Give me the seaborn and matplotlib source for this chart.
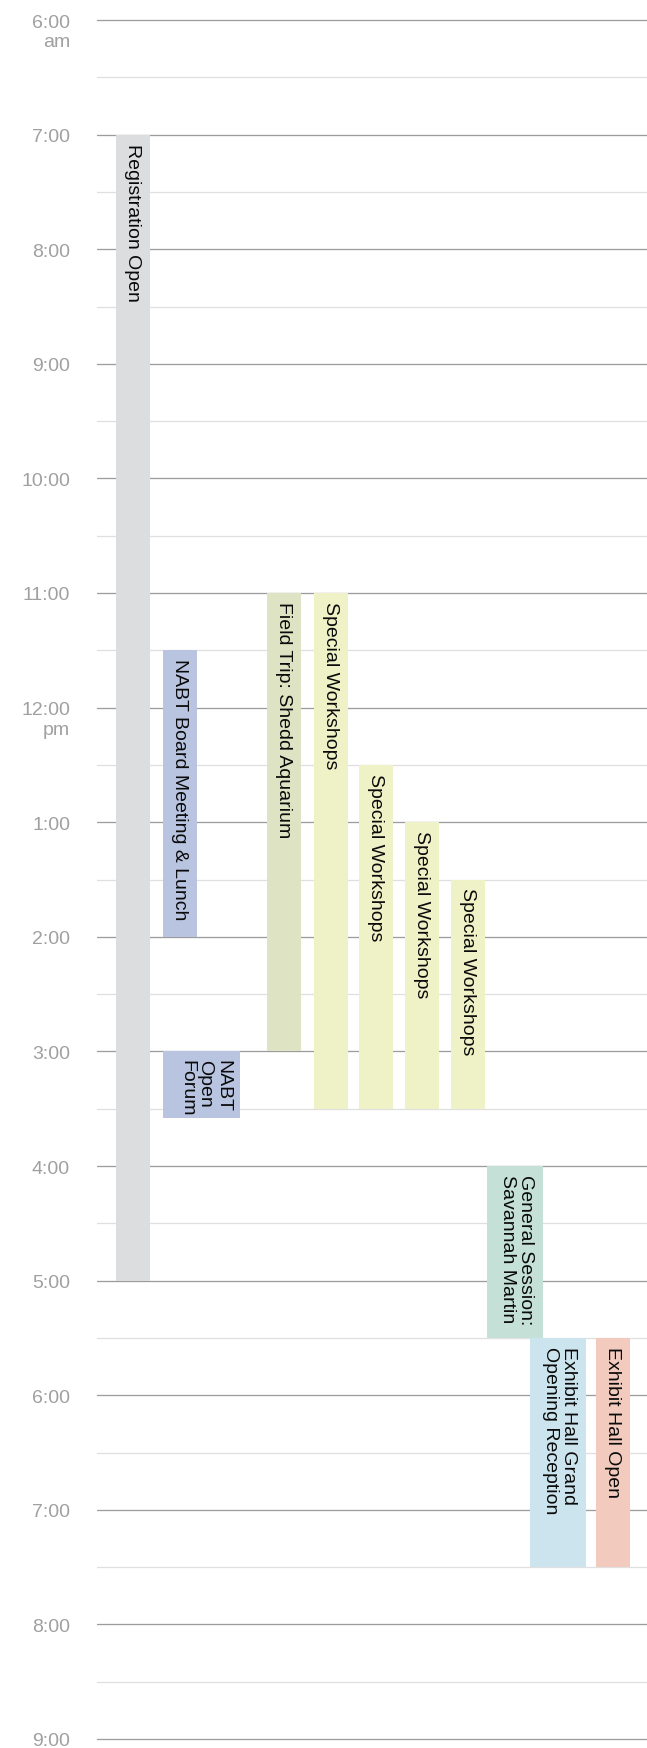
import matplotlib
matplotlib.use("Agg")
import matplotlib.pyplot as plt
import seaborn as sns

# schedule data (hours, 24h clock)
events = ["Registration Open", "NABT Board Meeting & Lunch", "NABT\nOpen\nForum",
          "Field Trip: Shedd Aquarium", "Special Workshops", "Special Workshops",
          "Special Workshops", "Special Workshops", "General Session:\nSavannah Martin",
          "Exhibit Hall Grand\nOpening Reception", "Exhibit Hall Open"]
starts = [7, 11.5, 15, 11, 11, 12.5, 13, 13.5, 16, 17.5, 17.5]
ends = [17, 14, 15.58, 15, 15.5, 15.5, 15.5, 15.5, 17.5, 19.5, 19.5]
kinds = ["reg", "nabt", "nabt", "trip", "workshop", "workshop", "workshop",
         "workshop", "general", "reception", "exhibit"]

hours = list(range(6, 22))
hour_labels = ["6:00", "7:00", "8:00", "9:00", "10:00", "11:00", "12:00", "1:00",
               "2:00", "3:00", "4:00", "5:00", "6:00", "7:00", "8:00", "9:00"]
hour_suffix = {6: "am", 12: "pm"}

# layout (px from left edge of the grid) and styling
lefts = [19, 66, 66, 170, 217, 262, 308, 354, 390, 433, 499]
widths = [34, 34, 77, 34, 34, 34, 34, 34, 56, 56, 34]
colors = {"reg": "#dcdddf", "nabt": "#b8c4e0", "trip": "#dde3c3",
          "workshop": "#eef2c6", "general": "#c4e0d7", "reception": "#cce4ee",
          "exhibit": "#f2cbbe"}

sns.set_theme(style="white")
plt.rcParams["font.family"] = ["Liberation Sans", "DejaVu Sans"]

W, H, DPI = 647, 1748, 100
fig = plt.figure(figsize=(W / DPI, H / DPI), dpi=DPI)
top_px, bot_px, left_px = 20, 1739, 97
ax = fig.add_axes([left_px / W, (H - bot_px) / H, (W - left_px) / W, (bot_px - top_px) / H])
ax.set_xlim(0, W - left_px)
ax.set_ylim(21, 6)
ax.axis("off")

px = 72 / DPI  # points per pixel

# grid lines: hours darker, half hours light
for h in hours:
    ax.axhline(h, color="#9c9c9c", lw=1.3 * px, zorder=1, clip_on=False)
    if h < 21:
        ax.axhline(h + 0.5, color="#e0e0e0", lw=1.3 * px, zorder=1)

# hour labels
for h, lab in zip(hours, hour_labels):
    ax.annotate(lab, xy=(0, h), xycoords=("axes fraction", "data"),
                xytext=(-27 * px, -7.5 * px), textcoords="offset points",
                ha="right", va="baseline", fontsize=14, color="#a0a0a0")
    if h in hour_suffix:
        ax.annotate(hour_suffix[h], xy=(0, h), xycoords=("axes fraction", "data"),
                    xytext=(-27 * px, -27 * px), textcoords="offset points",
                    ha="right", va="baseline", fontsize=14, color="#a0a0a0")

# event bars
for ev, s, e, k, x, w in zip(events, starts, ends, kinds, lefts, widths):
    ax.bar(x, e - s, width=w, bottom=s, align="edge", color=colors[k],
           edgecolor="none", zorder=2)
    ax.annotate(ev, xy=(x + w, s), xycoords="data",
                xytext=(-9 * px, -9 * px), textcoords="offset points",
                rotation=-90, rotation_mode="anchor", ha="left", va="top",
                fontsize=14, color="#0a0a0a", linespacing=1.05, zorder=3)

fig.savefig("out.png", dpi=DPI)
